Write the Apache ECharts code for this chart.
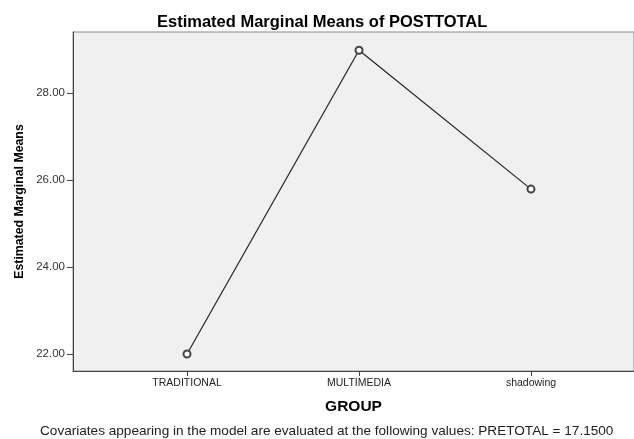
<!DOCTYPE html>
<html>
<head>
<meta charset="utf-8">
<script src="https://cdn.jsdelivr.net/npm/echarts@6/dist/echarts.min.js"></script>
<style>
  html, body { margin: 0; padding: 0; background: #fff; }
  #main { width: 634px; height: 439px; }
</style>
</head>
<body>
<div id="main"></div>
<script>
// data
var groups = ['TRADITIONAL', 'MULTIMEDIA', 'shadowing'];
var means = [22.00, 28.98, 25.79];
var yTicks = [22, 24, 26, 28];
var pretotal = '17.1500';

var chartDom = document.getElementById('main');
var myChart = echarts.init(chartDom);
var option;

var font = 'Arial, "Liberation Sans", sans-serif';
var points = [];
for (var i = 0; i < groups.length; i++) {
  points.push([i, means[i]]);
}

option = {
  animation: false,
  title: [
    {
      text: 'Estimated Marginal Means of POSTTOTAL',
      left: 152,
      top: 9,
      textStyle: { fontFamily: font, fontSize: 16.5, fontWeight: 'bold', color: '#000' }
    },
    {
      text: 'Covariates appearing in the model are evaluated at the following values: PRETOTAL = ' + pretotal,
      left: 35,
      top: 419,
      textStyle: { fontFamily: font, fontSize: 13.6, fontWeight: 'normal', color: '#222' }
    }
  ],
  grid: {
    left: 73,
    top: 32,
    right: 0,
    bottom: 68,
    show: true,
    backgroundColor: '#f0f0f0',
    borderColor: '#8a8a8a',
    borderWidth: 1
  },
  xAxis: {
    type: 'value',
    min: -0.663,
    max: 2.599,
    name: 'GROUP',
    nameLocation: 'middle',
    nameGap: 28,
    nameTextStyle: { fontFamily: font, fontSize: 15.5, fontWeight: 'bold', color: '#000' },
    splitLine: { show: false },
    axisLine: { onZero: false, lineStyle: { color: '#444', width: 1 } },
    axisTick: { customValues: [0, 1, 2], length: 5, lineStyle: { color: '#444' } },
    axisLabel: {
      customValues: [0, 1, 2],
      formatter: function (v) { return groups[Math.round(v)]; },
      fontFamily: font,
      fontSize: 10.5,
      color: '#222',
      margin: 7
    }
  },
  yAxis: {
    type: 'value',
    min: 21.61,
    max: 29.40,
    name: 'Estimated Marginal Means',
    nameLocation: 'middle',
    nameGap: 47,
    nameTextStyle: { fontFamily: font, fontSize: 12.3, fontWeight: 'bold', color: '#000' },
    splitLine: { show: false },
    axisLine: { show: true, onZero: false, lineStyle: { color: '#444', width: 1 } },
    axisTick: { show: true, customValues: yTicks, length: 6, lineStyle: { color: '#444' } },
    axisLabel: {
      customValues: yTicks,
      formatter: function (v) { return v.toFixed(2); },
      fontFamily: font,
      fontSize: 11.5,
      color: '#333',
      margin: 8
    }
  },
  series: [
    {
      type: 'line',
      data: points,
      symbol: 'emptyCircle',
      symbolSize: 7,
      itemStyle: { color: '#444', borderWidth: 1 },
      lineStyle: { color: '#222', width: 1.2 }
    }
  ]
};

option && myChart.setOption(option);
</script>
</body>
</html>
